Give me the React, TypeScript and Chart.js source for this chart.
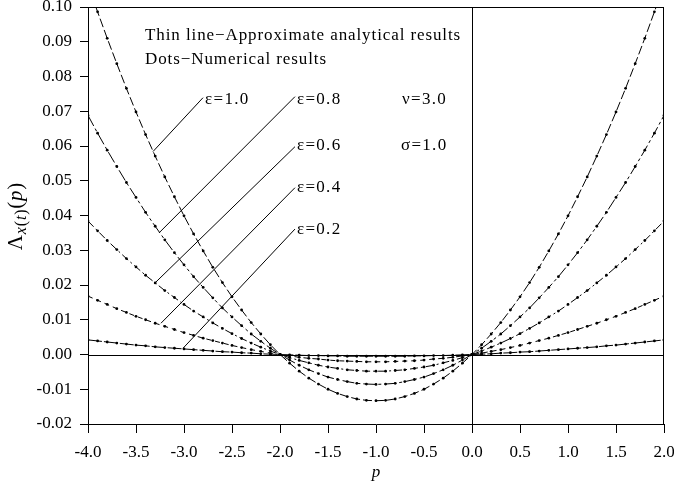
import React, { useEffect, useRef } from "react";
import { Chart, registerables } from "chart.js";

Chart.register(...registerables);

// p values (x axis)
const pValues = [
  -4.0, -3.9, -3.8, -3.7, -3.6, -3.5, -3.4, -3.3, -3.2, -3.1,
  -3.0, -2.9, -2.8, -2.7, -2.6, -2.5, -2.4, -2.3, -2.2, -2.1,
  -2.0, -1.9, -1.8, -1.7, -1.6, -1.5, -1.4, -1.3, -1.2, -1.1,
  -1.0, -0.9, -0.8, -0.7, -0.6, -0.5, -0.4, -0.3, -0.2, -0.1,
  0.0, 0.1, 0.2, 0.3, 0.4, 0.5, 0.6, 0.7, 0.8, 0.9,
  1.0, 1.1, 1.2, 1.3, 1.4, 1.5, 1.6, 1.7, 1.8, 1.9, 2.0,
];

const eps10 = [
  0.1064, 0.0986, 0.0910, 0.0837, 0.0766, 0.0698, 0.0633, 0.0571, 0.0511, 0.0454,
  0.0399, 0.0347, 0.0298, 0.0251, 0.0207, 0.0166, 0.0128, 0.0092, 0.0059, 0.0028,
  0.0000, -0.0025, -0.0048, -0.0068, -0.0085, -0.0100, -0.0112, -0.0121, -0.0128, -0.0132,
  -0.0133, -0.0132, -0.0128, -0.0121, -0.0112, -0.0100, -0.0085, -0.0068, -0.0048, -0.0025,
  0.0000, 0.0028, 0.0059, 0.0092, 0.0128, 0.0166, 0.0207, 0.0251, 0.0298, 0.0347,
  0.0399, 0.0454, 0.0511, 0.0571, 0.0633, 0.0698, 0.0766, 0.0837, 0.0910, 0.0986, 0.1064,
];

const eps08 = [
  0.0688, 0.0637, 0.0588, 0.0541, 0.0495, 0.0452, 0.0409, 0.0369, 0.0330, 0.0293,
  0.0258, 0.0224, 0.0193, 0.0163, 0.0134, 0.0108, 0.0083, 0.0059, 0.0038, 0.0018,
  0.0000, -0.0016, -0.0031, -0.0044, -0.0055, -0.0065, -0.0072, -0.0078, -0.0083, -0.0085,
  -0.0086, -0.0085, -0.0083, -0.0078, -0.0072, -0.0065, -0.0055, -0.0044, -0.0031, -0.0016,
  0.0000, 0.0018, 0.0038, 0.0059, 0.0083, 0.0108, 0.0134, 0.0163, 0.0193, 0.0224,
  0.0258, 0.0293, 0.0330, 0.0369, 0.0409, 0.0452, 0.0495, 0.0541, 0.0588, 0.0637, 0.0688,
];

const eps06 = [
  0.0384, 0.0356, 0.0328, 0.0302, 0.0276, 0.0252, 0.0228, 0.0206, 0.0184, 0.0164,
  0.0144, 0.0125, 0.0108, 0.0091, 0.0075, 0.0060, 0.0046, 0.0033, 0.0021, 0.0010,
  0.0000, -0.0009, -0.0017, -0.0024, -0.0031, -0.0036, -0.0040, -0.0044, -0.0046, -0.0048,
  -0.0048, -0.0048, -0.0046, -0.0044, -0.0040, -0.0036, -0.0031, -0.0024, -0.0017, -0.0009,
  0.0000, 0.0010, 0.0021, 0.0033, 0.0046, 0.0060, 0.0075, 0.0091, 0.0108, 0.0125,
  0.0144, 0.0164, 0.0184, 0.0206, 0.0228, 0.0252, 0.0276, 0.0302, 0.0328, 0.0356, 0.0384,
];

const eps04 = [
  0.0168, 0.0156, 0.0144, 0.0132, 0.0121, 0.0110, 0.0100, 0.0090, 0.0081, 0.0072,
  0.0063, 0.0055, 0.0047, 0.0040, 0.0033, 0.0026, 0.0020, 0.0014, 0.0009, 0.0004,
  0.0000, -0.0004, -0.0008, -0.0011, -0.0013, -0.0016, -0.0018, -0.0019, -0.0020, -0.0021,
  -0.0021, -0.0021, -0.0020, -0.0019, -0.0018, -0.0016, -0.0013, -0.0011, -0.0008, -0.0004,
  0.0000, 0.0004, 0.0009, 0.0014, 0.0020, 0.0026, 0.0033, 0.0040, 0.0047, 0.0055,
  0.0063, 0.0072, 0.0081, 0.0090, 0.0100, 0.0110, 0.0121, 0.0132, 0.0144, 0.0156, 0.0168,
];

const eps02 = [
  0.0042, 0.0039, 0.0036, 0.0033, 0.0030, 0.0027, 0.0025, 0.0022, 0.0020, 0.0018,
  0.0016, 0.0014, 0.0012, 0.0010, 0.0008, 0.0007, 0.0005, 0.0004, 0.0002, 0.0001,
  0.0000, -0.0001, -0.0002, -0.0003, -0.0003, -0.0004, -0.0004, -0.0005, -0.0005, -0.0005,
  -0.0005, -0.0005, -0.0005, -0.0005, -0.0004, -0.0004, -0.0003, -0.0003, -0.0002, -0.0001,
  0.0000, 0.0001, 0.0002, 0.0004, 0.0005, 0.0007, 0.0008, 0.0010, 0.0012, 0.0014,
  0.0016, 0.0018, 0.0020, 0.0022, 0.0025, 0.0027, 0.0030, 0.0033, 0.0036, 0.0039, 0.0042,
];

const seriesNames = ["ε=1.0", "ε=0.8", "ε=0.6", "ε=0.4", "ε=0.2"];
const seriesValues = [eps10, eps08, eps06, eps04, eps02];

const SERIF = '"Liberation Serif", "Times New Roman", serif';

const annotationPlugin = {
  id: "annotations",
  beforeDatasetsDraw(chart: any) {
    const { ctx, chartArea } = chart;
    const xs = chart.scales.x;
    const ys = chart.scales.y;
    ctx.save();
    ctx.strokeStyle = "#000";
    ctx.lineWidth = 1;
    // frame top and right
    ctx.beginPath();
    ctx.moveTo(chartArea.left, Math.round(chartArea.top) + 0.5);
    ctx.lineTo(chartArea.right, Math.round(chartArea.top) + 0.5);
    ctx.moveTo(Math.round(chartArea.right) - 0.5, chartArea.top);
    ctx.lineTo(Math.round(chartArea.right) - 0.5, chartArea.bottom);
    // zero lines
    const y0 = Math.round(ys.getPixelForValue(0)) + 0.5;
    const x0 = Math.round(xs.getPixelForValue(0)) + 0.5;
    ctx.moveTo(chartArea.left, y0);
    ctx.lineTo(chartArea.right, y0);
    ctx.moveTo(x0, chartArea.top);
    ctx.lineTo(x0, chartArea.bottom);
    ctx.stroke();

    // leader lines (data coords)
    const leaders = [
      [-2.802, 0.0739, -3.323, 0.0584],
      [-1.844, 0.0742, -3.26, 0.035],
      [-1.844, 0.0598, -3.302, 0.0206],
      [-1.844, 0.048, -3.24, 0.009],
      [-1.844, 0.0361, -3.01, 0.0018],
    ];
    ctx.beginPath();
    leaders.forEach(([a, b, c, d]) => {
      ctx.moveTo(xs.getPixelForValue(a), ys.getPixelForValue(b));
      ctx.lineTo(xs.getPixelForValue(c), ys.getPixelForValue(d));
    });
    ctx.stroke();

    ctx.fillStyle = "#000";
    ctx.font = `17px ${SERIF}`;
    ctx.textAlign = "left";
    ctx.textBaseline = "middle";
    const texts: [string, number, number, number][] = [
      ["Thin line\u2212Approximate analytical results", -3.406, 0.0917, 0.9],
      ["Dots\u2212Numerical results", -3.406, 0.0848, 0.9],
      [seriesNames[0], -2.78, 0.0733, 1.3],
      [seriesNames[1], -1.823, 0.0733, 1.3],
      [seriesNames[2], -1.823, 0.0601, 1.3],
      [seriesNames[3], -1.823, 0.048, 1.3],
      [seriesNames[4], -1.823, 0.0361, 1.3],
      ["ν=3.0", -0.729, 0.0733, 1.3],
      ["σ=1.0", -0.74, 0.0601, 1.3],
    ];
    texts.forEach(([t, a, b, ls]) => {
      ctx.letterSpacing = `${ls}px`;
      ctx.fillText(t, xs.getPixelForValue(a), ys.getPixelForValue(b));
    });
    ctx.letterSpacing = "0px";

    // x title
    ctx.font = `italic 17px ${SERIF}`;
    ctx.textAlign = "center";
    ctx.fillText("p", (chartArea.left + chartArea.right) / 2, 473);

    // y title rotated
    ctx.save();
    ctx.translate(16, 216);
    ctx.rotate(-Math.PI / 2);
    ctx.textAlign = "left";
    ctx.textBaseline = "alphabetic";
    const parts: [string, string, number][] = [
      ["Λ", `21px ${SERIF}`, 0],
      ["x", `italic 16px ${SERIF}`, 4],
      ["(", `16px ${SERIF}`, 4],
      ["t", `italic 16px ${SERIF}`, 4],
      [")", `16px ${SERIF}`, 4],
      ["(", `21px ${SERIF}`, 0],
      ["p", `italic 21px ${SERIF}`, 0],
      [")", `21px ${SERIF}`, 0],
    ];
    const gap = 0.8;
    let total = 0;
    parts.forEach(([t, f]) => {
      ctx.font = f;
      total += ctx.measureText(t).width + gap;
    });
    let cx = -total / 2;
    parts.forEach(([t, f, dy]) => {
      ctx.font = f;
      ctx.fillText(t, cx, 6 + dy);
      cx += ctx.measureText(t).width + gap;
    });
    ctx.restore();
    ctx.restore();
  },
};

const dashes = [
  [9, 3],
  [12, 3, 3, 3],
  [8, 3, 2, 3],
  [5, 4],
  [14, 2],
];

export default function App() {
  const canvasRef = useRef<HTMLCanvasElement | null>(null);

  useEffect(() => {
    document.body.style.margin = "0";
    const canvas = canvasRef.current;
    if (!canvas) return;
    const datasets = seriesValues.map((vals, i) => ({
      label: seriesNames[i],
      data: pValues.map((p, j) => ({ x: p, y: vals[j] })),
      borderColor: "#000",
      borderWidth: 1,
      borderDash: dashes[i],
      pointRadius: 1.4,
      pointBackgroundColor: "#000",
      pointBorderWidth: 0,
      pointHoverRadius: 1.4,
      tension: 0,
      fill: false,
    }));
    const chart = new Chart(canvas, {
      type: "line",
      data: { datasets },
      options: {
        animation: false,
        responsive: false,
        maintainAspectRatio: false,
        layout: { padding: { top: 7, right: 10, left: 0, bottom: 0 } },
        plugins: {
          legend: { display: false },
          tooltip: { enabled: false },
        },
        scales: {
          x: {
            type: "linear",
            min: -4,
            max: 2,
            ticks: {
              stepSize: 0.5,
              color: "#000",
              font: { family: SERIF, size: 17 },
              padding: 9,
              maxRotation: 0,
              callback: (v: any) => Number(v).toFixed(1),
            },
            grid: {
              drawOnChartArea: false,
              drawTicks: true,
              tickLength: 9,
              color: "#000",
            },
            border: { display: true, color: "#000", width: 1 },
            afterFit: (s: any) => {
              s.height = 65;
              s.paddingLeft = 0;
              s.paddingRight = 0;
            },
          },
          y: {
            type: "linear",
            min: -0.02,
            max: 0.1,
            ticks: {
              stepSize: 0.01,
              color: "#000",
              font: { family: SERIF, size: 17 },
              padding: 8,
              callback: (v: any) => Number(v).toFixed(2),
            },
            grid: {
              drawOnChartArea: false,
              drawTicks: true,
              tickLength: 8,
              color: "#000",
            },
            border: { display: true, color: "#000", width: 1 },
            afterFit: (s: any) => {
              s.width = 88;
              s.paddingTop = 0;
              s.paddingBottom = 0;
            },
          },
        },
      },
      plugins: [annotationPlugin],
    });
    return () => chart.destroy();
  }, []);

  return (
    <div style={{ width: 674, height: 489 }}>
      <canvas ref={canvasRef} width={674} height={489} style={{ display: "block" }} />
    </div>
  );
}
